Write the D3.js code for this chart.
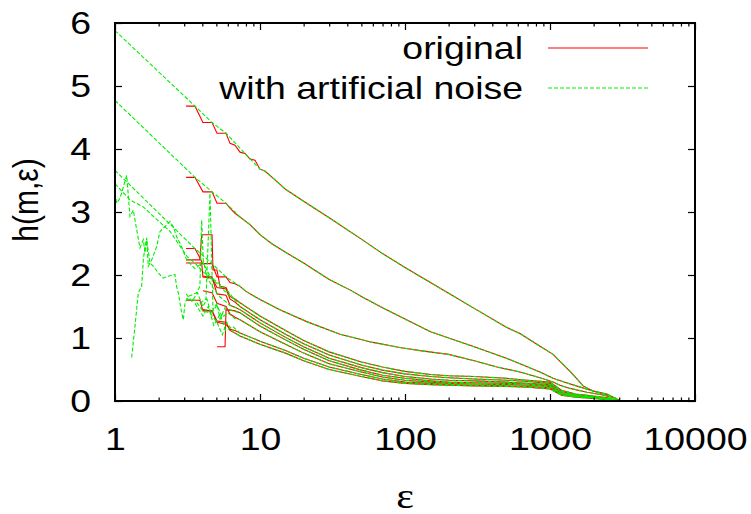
<!DOCTYPE html>
<html>
<head>
<meta charset="utf-8">
<script src="https://cdn.jsdelivr.net/npm/d3@7"></script>
<style>
  body { margin: 0; background: #fff; }
  text { font-family: "Liberation Sans", Arial, sans-serif; fill: #000; }
</style>
</head>
<body>
<div id="vis"></div>
<script>
// ---- data (epsilon, h) ----
const X_TICKS = [1, 10, 100, 1000, 10000];
const Y_TICKS = [0, 1, 2, 3, 4, 5, 6];
const LEGEND = ["original", "with artificial noise"];

// common epsilon grid for the lower curves after the step region
const EPS_TAIL = [10, 15, 20, 30, 50, 70, 100, 150, 200, 300, 500, 700, 1000, 1200, 1500, 2000, 2500, 3000];

const A_RED = [[3.09,4.68],[3.56,4.68],[4.04,4.42],[4.67,4.42],[5.05,4.25],[5.83,4.25],[6.21,4.09],[6.72,4.06],
  [7.28,3.95],[7.88,3.93],[8.53,3.84],[9.24,3.82],[10,3.68],[10.8,3.65],[12.7,3.51],[15,3.36],[20,3.17],[30,2.91],
  [50,2.57],[70,2.34],[100,2.12],[200,1.71],[300,1.47],[500,1.17],[621,1.07],[853,0.87],[1050,0.74],[1172,0.63],
  [1374,0.47],[1535,0.35],[1690,0.24],[1980,0.16],[2470,0.11],[3040,0]];
const B_RED = [[3.09,3.55],[3.56,3.55],[4.04,3.32],[4.67,3.32],[5.05,3.14],[5.83,3.14],[6.21,3.06],[6.72,2.98],
  [7.28,2.92],[8.53,2.80],[10,2.64],[12,2.50],[15,2.36],[20,2.19],[30,1.93],[42,1.76],[50,1.66],[70,1.48],
  [100,1.30],[150,1.10],[200,1.00],[300,0.86],[500,0.68],[621,0.59],[853,0.46],[1050,0.36],[1250,0.30],
  [1620,0.22],[1980,0.16],[2600,0.08],[3040,0]];
const C_RED = [[3.09,2.42],[3.56,2.42],[4.04,2.18],[4.67,2.18],[5.05,1.97],[5.83,1.97],[6.21,1.88],[6.72,1.86],
  [7.28,1.82],[8,1.74],[10,1.61],[13.7,1.45],[21,1.26],[35.6,1.06],[60,0.93],[92,0.85],[127,0.80],[200,0.74],
  [300,0.64],[431,0.54],[621,0.46],[853,0.37],[1050,0.30],[1172,0.25],[1374,0.20],[1800,0.14],[2260,0.10],
  [2800,0.05],[3040,0]];

const E_HEAD = [[3.09,2.24],[3.85,2.24],[3.96,2.64],[4.67,2.64],[4.74,2.08],[5.05,2.08],[5.3,1.82],[5.83,1.80],[6.21,1.66],[6.72,1.62],[7.28,1.56]];
const F_HEAD = [[3.09,2.19],[3.96,2.19],[4.04,1.97],[4.67,1.95],[5.05,1.80],[5.83,1.78],[6.21,1.62],[6.72,1.57],[7.28,1.50]];
const G_HEAD = [[4.04,1.98],[4.67,1.97],[5.05,1.70],[5.83,1.68],[6.21,1.52],[6.72,1.49],[7.28,1.45]];
const H_HEAD = [[5.05,0.86],[5.74,0.86],[5.83,1.45],[6.72,1.43],[7.28,1.40]];
const I_HEAD = [[4.04,1.75],[4.67,1.72],[5.05,1.55],[5.83,1.50],[6.21,1.38],[6.72,1.33],[7.28,1.29]];
const J_HEAD = [[4.04,1.45],[4.67,1.43],[5.05,1.25],[5.83,1.22],[6.21,1.14],[6.72,1.12],[7.28,1.08]];
const K_HEAD = [[3.09,1.60],[3.85,1.60],[4.04,1.43],[4.67,1.43],[5.05,1.27],[5.83,1.25],[6.21,1.12],[6.72,1.08],[7.28,1.03]];

const E_TAIL = [1.35,1.12,0.96,0.78,0.62,0.54,0.47,0.42,0.40,0.39,0.36,0.33,0.30,0.17,0.11,0.08,0.05,0];
const F_TAIL = [1.29,1.06,0.91,0.73,0.57,0.49,0.43,0.39,0.37,0.35,0.33,0.31,0.28,0.15,0.10,0.07,0.04,0];
const G_TAIL = [1.24,1.01,0.86,0.68,0.53,0.45,0.39,0.35,0.33,0.32,0.30,0.28,0.26,0.13,0.09,0.06,0.04,0];
const H_TAIL = [1.19,0.97,0.82,0.64,0.49,0.41,0.36,0.32,0.30,0.29,0.28,0.27,0.24,0.12,0.08,0.06,0.03,0];
const I_TAIL = [1.10,0.90,0.76,0.59,0.46,0.38,0.33,0.30,0.28,0.27,0.26,0.25,0.23,0.11,0.07,0.05,0.03,0];
const J_TAIL = [0.95,0.80,0.68,0.54,0.42,0.35,0.30,0.28,0.26,0.25,0.24,0.23,0.21,0.10,0.07,0.05,0.03,0];
const K_TAIL = [0.90,0.76,0.64,0.50,0.39,0.32,0.28,0.26,0.25,0.24,0.23,0.22,0.19,0.09,0.06,0.04,0.02,0];

// noisy data: start of each curve differs, the rest lies on the original
const A_NOISE = [[1,5.88],[3.56,4.68],[4.67,4.42],[5.83,4.25],[7.88,3.93],[10,3.68]];
const B_NOISE = [[1,4.77],[3.56,3.55],[4.67,3.32],[5.83,3.14],[7.28,2.92]];
const C_NOISE = [[1,3.66],[3.56,2.42],[4.67,2.18],[5.83,1.97],[7.28,1.82]];
const E_NOISE = [[1,3.30],[1.027,3.14],[1.083,3.22],[1.204,3.58],[1.269,2.93],[1.337,3.03],[1.411,2.72],[1.487,2.43],
  [1.568,2.56],[1.61,2.35],[1.653,2.59],[1.696,2.14],[1.791,2.24],[1.937,2.45],[2.043,2.69],[2.212,2.77],[2.395,2.85],
  [2.52,2.77],[2.66,2.61],[2.88,2.45],[3.12,2.24],[3.56,2.10],[4.04,2.20],[4.6,1.95],[5.3,1.82],[6.21,1.66],[7.28,1.56]];
const F_NOISE = [[1,3.45],[1.27,3.19],[1.57,3.08],[1.8,2.95],[2.4,2.69],[3.15,2.29],[3.56,2.19],[4.04,2.05],[4.67,1.95],[5.83,1.78],[7.28,1.50]];
const G_NOISE = [[1.303,0.69],[1.374,1.19],[1.448,1.72],[1.527,1.82],[1.568,2.24],[1.61,2.45],[1.653,2.56],[1.744,2.19],
  [1.837,2.14],[1.99,2.03],[2.15,1.95],[2.33,1.98],[2.59,2.01],[2.66,1.82],[2.73,1.72],[2.88,1.40],[2.96,1.29],[3.04,1.56],
  [3.2,1.66],[3.66,1.72],[3.85,1.82],[3.96,2.87],[4.06,2.24],[4.28,1.98],[4.74,1.80],[5.3,1.65],[6.21,1.52],[7.28,1.45]];
const H_NOISE = [[3.85,1.55],[4.24,1.62],[4.52,3.30],[4.74,1.45],[5.05,1.55],[5.3,1.30],[5.74,1.48],[6.21,1.45],[6.72,1.42],[7.28,1.40]];
const I_NOISE = [[3.09,1.70],[3.4,1.58],[3.7,1.72],[4.04,1.50],[4.3,1.62],[4.6,1.38],[5.05,1.52],[5.5,1.33],[6.0,1.40],[6.7,1.31],[7.28,1.29]];
const J_NOISE = [[3.56,1.55],[4.04,1.35],[4.4,1.50],[4.8,1.20],[5.3,1.38],[5.8,1.12],[6.5,1.18],[7.28,1.08]];
const K_NOISE = [[3.09,1.62],[3.56,1.60],[4.04,1.43],[4.52,1.40],[5.05,1.25],[5.5,1.05],[5.9,1.25],[6.5,1.10],[7.28,1.03]];

const withTail = (head, vals) => head.concat(EPS_TAIL.map((e, i) => [e, vals[i]]));
const withRest = (head, full) => head.concat(full.filter(p => p[0] > head[head.length - 1][0]));

const original = [A_RED, B_RED, C_RED,
  withTail(E_HEAD, E_TAIL), withTail(F_HEAD, F_TAIL), withTail(G_HEAD, G_TAIL), withTail(H_HEAD, H_TAIL),
  withTail(I_HEAD, I_TAIL), withTail(J_HEAD, J_TAIL), withTail(K_HEAD, K_TAIL)];
const noisy = [withRest(A_NOISE, A_RED), withRest(B_NOISE, B_RED), withRest(C_NOISE, C_RED),
  withTail(E_NOISE, E_TAIL), withTail(F_NOISE, F_TAIL), withTail(G_NOISE, G_TAIL), withTail(H_NOISE, H_TAIL),
  withTail(I_NOISE, I_TAIL), withTail(J_NOISE, J_TAIL), withTail(K_NOISE, K_TAIL)];

// ---- layout ----
const W = 751, H = 514;
const margin = {left: 115, right: 695, top: 23, bottom: 401};
const SX = 1.17;   // glyphs in the picture are stretched sideways
const RED = "#ff0000", GREEN = "#00ee00";

const svg = d3.select("#vis").append("svg")
  .attr("width", W).attr("height", H);

const x = d3.scaleLog().domain([1, 10000]).range([margin.left, margin.right]);
const y = d3.scaleLinear().domain([0, 6]).range([margin.bottom, margin.top]);

svg.append("clipPath").attr("id", "clip")
  .append("rect").attr("x", margin.left).attr("y", margin.top)
  .attr("width", margin.right - margin.left).attr("height", margin.bottom - margin.top);

const line = d3.line().x(d => x(d[0])).y(d => y(d[1]));

const plot = svg.append("g").attr("clip-path", "url(#clip)");

plot.selectAll(".orig").data(original).enter().append("path")
  .attr("class", "orig")
  .attr("d", line)
  .attr("fill", "none").attr("stroke", RED).attr("stroke-width", 1.1);

plot.selectAll(".noise").data(noisy).enter().append("path")
  .attr("class", "noise")
  .attr("d", line)
  .attr("fill", "none").attr("stroke", GREEN).attr("stroke-width", 1.1)
  .attr("stroke-dasharray", "4,2");

////////// axes //////////

const minor = [];
[1, 10, 100, 1000].forEach(d => { for (let k = 2; k < 10; k++) minor.push(d * k); });

const styleAxis = g => {
  g.select(".domain").remove();
  g.selectAll("line").attr("stroke", "#000").attr("stroke-width", 1.2);
};
const styleLabels = g => g.selectAll("text")
  .attr("font-size", 32).attr("fill", "#000")
  .attr("transform", `scale(${SX},1)`)
  .style("font-family", "Liberation Sans, Arial, sans-serif");

svg.append("g").attr("transform", `translate(0,${margin.bottom})`)
  .call(d3.axisBottom(x).tickValues(X_TICKS).tickFormat(d3.format("d")).tickSizeInner(-7).tickSizeOuter(0).tickPadding(26))
  .call(styleAxis).call(styleLabels);
svg.append("g").attr("transform", `translate(0,${margin.bottom})`)
  .call(d3.axisBottom(x).tickValues(minor).tickFormat("").tickSizeInner(-3.5).tickSizeOuter(0))
  .call(styleAxis);
svg.append("g").attr("transform", `translate(0,${margin.top})`)
  .call(d3.axisTop(x).tickValues(X_TICKS).tickFormat("").tickSizeInner(-7).tickSizeOuter(0))
  .call(styleAxis);
svg.append("g").attr("transform", `translate(0,${margin.top})`)
  .call(d3.axisTop(x).tickValues(minor).tickFormat("").tickSizeInner(-3.5).tickSizeOuter(0))
  .call(styleAxis);

svg.append("g").attr("transform", `translate(${margin.left},0)`)
  .call(d3.axisLeft(y).tickValues(Y_TICKS).tickFormat(d3.format("d")).tickSizeInner(-7).tickSizeOuter(0).tickPadding(24 / SX))
  .call(styleAxis).call(styleLabels);
svg.append("g").attr("transform", `translate(${margin.right},0)`)
  .call(d3.axisRight(y).tickValues(Y_TICKS).tickFormat("").tickSizeInner(-7).tickSizeOuter(0))
  .call(styleAxis);

// frame
svg.append("rect")
  .attr("x", margin.left).attr("y", margin.top)
  .attr("width", margin.right - margin.left).attr("height", margin.bottom - margin.top)
  .attr("fill", "none").attr("stroke", "#000").attr("stroke-width", 2);

// axis titles
const ylab = svg.append("text")
  .attr("text-anchor", "start")
  .style("font-size", "30px")
  .text("h(m,ε)");
const ylen = ylab.node().getComputedTextLength();
ylab.attr("transform", `translate(38,${200 + ylen / 2}) scale(${SX},1) rotate(-90)`);

svg.append("text")
  .attr("transform", `translate(405,508) scale(${SX},1)`)
  .attr("text-anchor", "middle")
  .style("font-size", "36px")
  .style("font-family", "Liberation Serif, Times New Roman, serif")
  .text("ε");

////////// legend //////////

const legend = svg.append("g");
const legendRows = [
  {label: LEGEND[0], color: RED, dash: null, ly: 48, ty: 59},
  {label: LEGEND[1], color: GREEN, dash: "4,2", ly: 88, ty: 99}
];
legendRows.forEach(r => {
  legend.append("text")
    .attr("transform", `translate(523,${r.ty}) scale(${SX},1)`)
    .attr("text-anchor", "end")
    .style("font-size", "32px")
    .text(r.label);
  legend.append("line")
    .attr("x1", 548).attr("x2", 648).attr("y1", r.ly).attr("y2", r.ly)
    .attr("stroke", r.color).attr("stroke-width", 1.1)
    .attr("stroke-dasharray", r.dash);
});
</script>
</body>
</html>
